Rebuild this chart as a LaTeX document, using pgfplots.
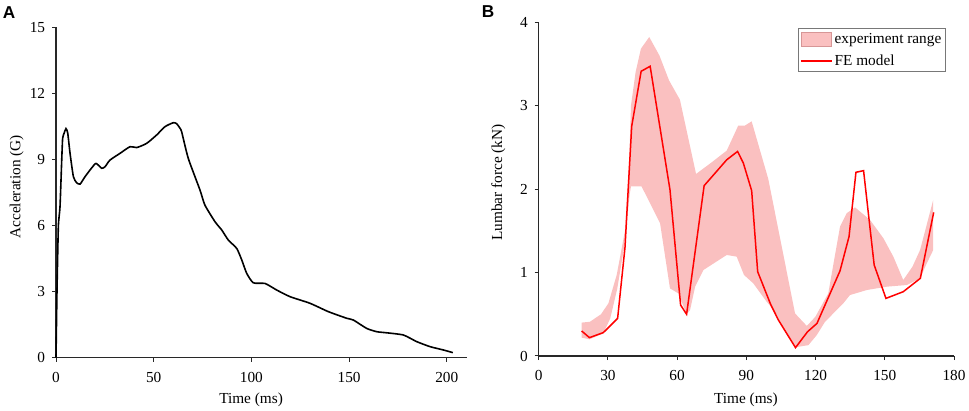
\documentclass[border=0pt]{standalone}
\usepackage{fontspec}
\setmainfont{Liberation Serif}
\newfontfamily\panelfont{Liberation Sans}
\usepackage{pgfplots}
\pgfplotsset{compat=1.18}
\definecolor{band}{RGB}{250,192,192}
\definecolor{bandedge}{RGB}{215,150,150}
\definecolor{axgray}{RGB}{40,40,40}
\newcommand{\chartfont}{\fontsize{15.3bp}{18bp}\selectfont}
\begin{document}
\begin{tikzpicture}
\path[use as bounding box] (0,0) rectangle (969bp,411bp);
\pgfplotsset{
 common/.style={
   scale only axis,
   axis x line*=bottom, axis y line*=left,
   axis line style={axgray, line width=1.2bp},
   tick style={axgray, line width=1bp},
   tick align=outside,
   major tick length=4bp,
   minor tick num=0,
   tick label style={font=\chartfont},
   label style={font=\chartfont},
   /pgf/number format/assume math mode=true,
   xticklabel style={anchor=north, inner sep=0pt, yshift=-10bp},
   yticklabel style={anchor=east, inner sep=0pt, xshift=-6.7bp},
   clip=false,
 }
}
% ---------------- Panel A ----------------
\begin{axis}[common,
  at={(56bp,53.3bp)}, anchor=south west,
  width=410.7bp, height=330.4bp,
  xmin=0, xmax=210.2, ymin=0, ymax=15,
  xtick={0,50,100,150,200}, ytick={0,3,6,9,12,15},
  xlabel={Time (ms)}, ylabel={Acceleration (G)},
  xlabel style={at={(axis description cs:0.475,-0.128)}, anchor=center, inner sep=0pt},
  ylabel style={at={(axis description cs:-0.0957,0.517)}, anchor=center, inner sep=0pt},
]
\addplot[black, line width=1.6bp, smooth, tension=0.35] coordinates {
(0,0) (0.5,3.0) (1.2,5.95) (2.05,6.85) (2.9,8.9) (3.4,9.96) (4.2,10.2) (5.1,10.40)
(6.0,10.2) (7.2,9.27) (8.9,8.22) (10.5,7.95) (12.3,7.88) (14.8,8.21) (18.3,8.62)
(20.5,8.82) (23.4,8.60) (25.1,8.67) (27.6,8.97) (32.8,9.28) (37.9,9.58) (41.3,9.54)
(46.4,9.73) (51.5,10.11) (55.8,10.49) (60.1,10.67) (61.8,10.62) (63.5,10.41) (64.3,10.26)
(67.7,9.05) (73.7,7.61) (76.2,6.93) (81.4,6.17) (84.8,5.80) (88.2,5.34) (92.5,4.96)
(95.1,4.43) (97.6,3.83) (101.0,3.40) (107.0,3.37) (113.0,3.07) (119.8,2.77) (130.0,2.47)
(139.4,2.09) (148.8,1.79) (152.2,1.71) (159.0,1.33) (164.2,1.18) (169.3,1.13) (177.8,1.03)
(184.6,0.73) (191.5,0.50) (198.3,0.35) (203.1,0.23)
};
\end{axis}
% ---------------- Panel B ----------------
\begin{axis}[common,
  at={(538.7bp,55bp)}, anchor=south west,
  width=415.3bp, height=334bp,
  xmin=0, xmax=180, ymin=0, ymax=4,
  xtick={0,30,60,90,120,150,180}, ytick={0,1,2,3,4},
  xlabel={Time (ms)}, ylabel={Lumbar force (kN)},
  xlabel style={at={(axis description cs:0.499,-0.1326)}, anchor=center, inner sep=0pt},
  ylabel style={at={(axis description cs:-0.0973,0.519)}, anchor=center, inner sep=0pt},
  legend style={at={(0.98,0.981)}, anchor=north east, draw={rgb,255:red,120;green,120;blue,120},
    line width=0.8bp, fill=white, inner xsep=2bp, inner ysep=2.5bp, row sep=6bp,
    font=\chartfont, nodes={inner sep=2bp}},
  legend cell align=left,
]
\addplot[fill=band, draw=none,
  legend image code/.code={\draw[fill=band, draw=bandedge, line width=0.6bp] (0bp,-7.2bp) rectangle (30bp,7.2bp);}]
coordinates {
(18.6,0.40) (22.2,0.41) (27.0,0.50) (30.2,0.63) (33.8,0.97) (37.4,1.50) (39.3,2.40)
(40.0,3.00) (42.0,3.40) (44.3,3.68) (47.9,3.82) (52.3,3.60) (56.5,3.30) (61.2,3.07)
(68.2,2.18) (75.0,2.32) (81.5,2.46) (86.5,2.76) (89.4,2.76) (92.3,2.81) (99.5,2.12)
(111.1,0.51) (116.2,0.36) (119.9,0.47) (125.5,0.75) (130.6,1.55) (133.5,1.71) (137.1,1.78)
(143.6,1.63) (149.4,1.41) (153.7,1.19) (158.0,0.91) (162.0,1.07) (165.3,1.27) (171.0,1.87)
(171.0,1.27) (168.2,1.11) (165.3,0.93) (159.5,0.85) (150.8,0.83) (142.2,0.79) (134.9,0.73)
(132.0,0.63) (124.1,0.41) (120.5,0.25) (116.9,0.13) (112.5,0.11) (111.4,0.10) (106.0,0.33)
(101.0,0.58) (98.8,0.65) (93.0,0.87) (89.0,0.97) (85.8,1.19) (81.5,1.21) (71.4,1.03)
(67.8,0.83) (65.6,0.55) (64.1,0.50) (61.0,0.72) (60.5,0.75) (56.9,0.81) (52.6,1.59)
(44.6,2.03) (40.0,2.03) (39.5,1.95) (37.0,1.30) (34.0,0.80) (31.0,0.45) (28.0,0.27)
(22.0,0.20) (18.6,0.22)
} -- cycle;
\addplot[red, line width=1.5bp,
  legend image code/.code={\draw[red, line width=1.5bp] (0bp,0bp) -- (31bp,0bp);}]
coordinates {
(18.6,0.30) (22.0,0.22) (28.0,0.28) (34.2,0.45) (37.4,1.30) (40.3,2.75) (44.4,3.41)
(48.3,3.47) (56.9,1.99) (61.5,0.61) (64.1,0.50) (71.7,2.04) (81.5,2.35) (86.2,2.45)
(88.7,2.31) (92.3,1.98) (94.9,1.01) (100.5,0.62) (103.9,0.43) (111.3,0.10) (116.5,0.29)
(120.6,0.39) (130.6,1.02) (134.5,1.43) (137.5,2.20) (140.8,2.22) (145.4,1.09) (150.5,0.69)
(158.0,0.77) (165.4,0.93) (171.2,1.72)
};
\legend{experiment range, FE model}
\end{axis}
\node[anchor=north west, inner sep=0pt, font=\panelfont\bfseries\fontsize{17.2bp}{20bp}\selectfont] at (2.7bp,405bp) {A};
\node[anchor=north west, inner sep=0pt, font=\panelfont\bfseries\fontsize{17.2bp}{20bp}\selectfont] at (481.7bp,406bp) {B};
\end{tikzpicture}
\end{document}
